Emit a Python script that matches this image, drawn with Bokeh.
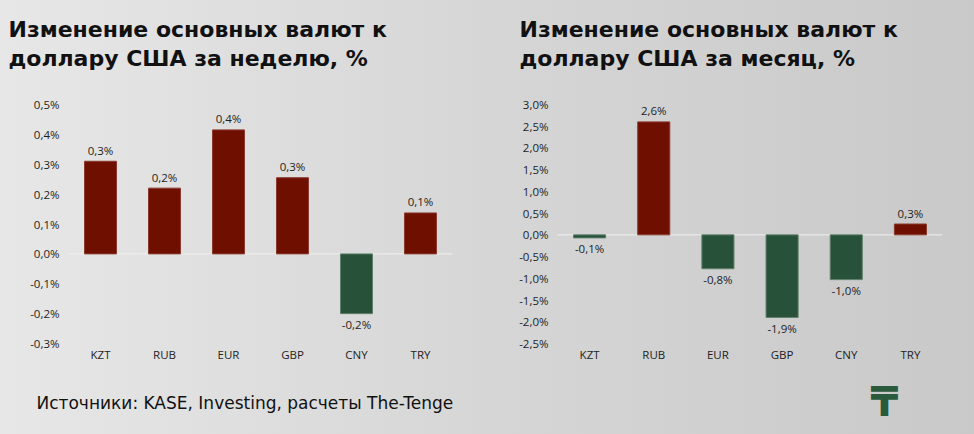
from bokeh.plotting import figure
from bokeh.models import FactorRange, Range1d, FixedTicker, CustomJSTickFormatter, ColumnDataSource, Span, Label
from bokeh.layouts import row, column
from bokeh.embed import file_html
from bokeh.resources import INLINE
from bokeh.core.properties import value

categories = ["KZT", "RUB", "EUR", "GBP", "CNY", "TRY"]
week_values = [0.31, 0.22, 0.415, 0.255, -0.20, 0.137]
week_labels = ["0,3%", "0,2%", "0,4%", "0,3%", "-0,2%", "0,1%"]
month_values = [-0.07, 2.60, -0.78, -1.90, -1.03, 0.25]
month_labels = ["-0,1%", "2,6%", "-0,8%", "-1,9%", "-1,0%", "0,3%"]
week_ticks = [-0.3, -0.2, -0.1, 0.0, 0.1, 0.2, 0.3, 0.4, 0.5]
month_ticks = [-2.5, -2.0, -1.5, -1.0, -0.5, 0.0, 0.5, 1.0, 1.5, 2.0, 2.5, 3.0]
week_title = ["Изменение основных валют к", "доллару США за неделю, %"]
month_title = ["Изменение основных валют к", "доллару США за месяц, %"]
source_text = "Источники: KASE, Investing, расчеты The-Tenge"

RED = "#6e0f00"
GREEN = "#275139"
W = 487
TOP_H, MID_H, BOT_H = 80, 300, 54
TICK_FONT = "Open Sans"
TITLE_FONT = "DejaVu Sans"


def blank(width, height):
    f = figure(width=width, height=height, x_range=Range1d(0, width), y_range=Range1d(height, 0),
               output_backend="svg", toolbar_location=None, x_axis_type=None, y_axis_type=None,
               min_border=0)
    f.background_fill_alpha = 0
    f.border_fill_alpha = 0
    f.outline_line_color = None
    f.xgrid.visible = False
    f.ygrid.visible = False
    return f


def title_fig(lines, x0):
    f = blank(W, TOP_H)
    for line, base in zip(lines, (29, 57.5)):
        f.add_layout(Label(x=x0, y=base, text=line, text_font=TITLE_FONT, text_font_style="bold",
                           text_font_size="22px", text_color="#111111",
                           text_baseline="alphabetic"))
    return f


def make_chart(values, labels, ticks, left, right, top, bottom):
    p = figure(width=W, height=MID_H, x_range=FactorRange(*categories),
               y_range=Range1d(ticks[0], ticks[-1]),
               output_backend="svg", toolbar_location=None,
               min_border_left=left, min_border_right=W - right,
               min_border_top=top - TOP_H, min_border_bottom=TOP_H + MID_H - bottom)
    p.background_fill_alpha = 0
    p.border_fill_alpha = 0
    p.outline_line_color = None
    p.xgrid.visible = False
    p.ygrid.visible = False

    colors = [RED if v >= 0 else GREEN for v in values]
    edge = ["#8a3a2e" if v >= 0 else "#5f7f6b" for v in values]
    offs = [-11 if v >= 0 else 11 for v in values]
    src = ColumnDataSource(dict(x=categories, top=values, color=colors, edge=edge,
                                label=labels, off=offs))

    p.add_layout(Span(location=0, dimension="width", line_color="#f0f0f0", line_width=1,
                      level="underlay"))

    p.vbar(x="x", top="top", bottom=0, width=0.5, source=src, fill_color="color",
           line_color="edge", line_width=1)
    p.text(x="x", y="top", text="label", y_offset="off", source=src,
           text_align="center", text_baseline="middle", text_font=value(TICK_FONT),
           text_font_size="11.5px", text_color="#1e1e1e")

    p.yaxis.ticker = FixedTicker(ticks=ticks)
    p.yaxis.formatter = CustomJSTickFormatter(code="return tick.toFixed(1).replace('.', ',') + '%';")
    for ax in (p.xaxis, p.yaxis):
        ax.axis_line_color = None
        ax.major_tick_line_color = None
        ax.minor_tick_line_color = None
        ax.major_tick_out = 0
        ax.major_tick_in = 0
        ax.major_label_text_font = TICK_FONT
        ax.major_label_text_font_size = "11.5px"
        ax.major_label_text_color = "#1e1e1e"
    p.yaxis.major_label_standoff = 9
    p.xaxis.major_label_standoff = 3
    return p


t1 = title_fig(week_title, 8)
t2 = title_fig(month_title, 32)
p1 = make_chart(week_values, week_labels, week_ticks, 68, 452, 102, 343)
p2 = make_chart(month_values, month_labels, month_ticks, 70, 455, 104, 343)

foot = blank(2 * W, BOT_H)
foot.add_layout(Label(x=36, y=402 - TOP_H - MID_H, text=source_text,
                      text_font="DejaVu Sans", text_font_size="17px", text_color="#111111",
                      text_baseline="alphabetic"))
foot.add_layout(Label(x=884, y=401 - TOP_H - MID_H, text="₸",
                      text_font="DejaVu Sans", text_font_style="bold", text_font_size="40px",
                      text_color="#2a5a3c", text_align="center", text_baseline="alphabetic"))

layout = column(row(t1, t2), row(p1, p2), foot, width=974, height=434,
                styles={"background": "linear-gradient(to right, #e7e7e7 0%, #d6d6d6 50%, #c9c9c9 100%)"})

open("out.html", "w").write(file_html(layout, INLINE))
